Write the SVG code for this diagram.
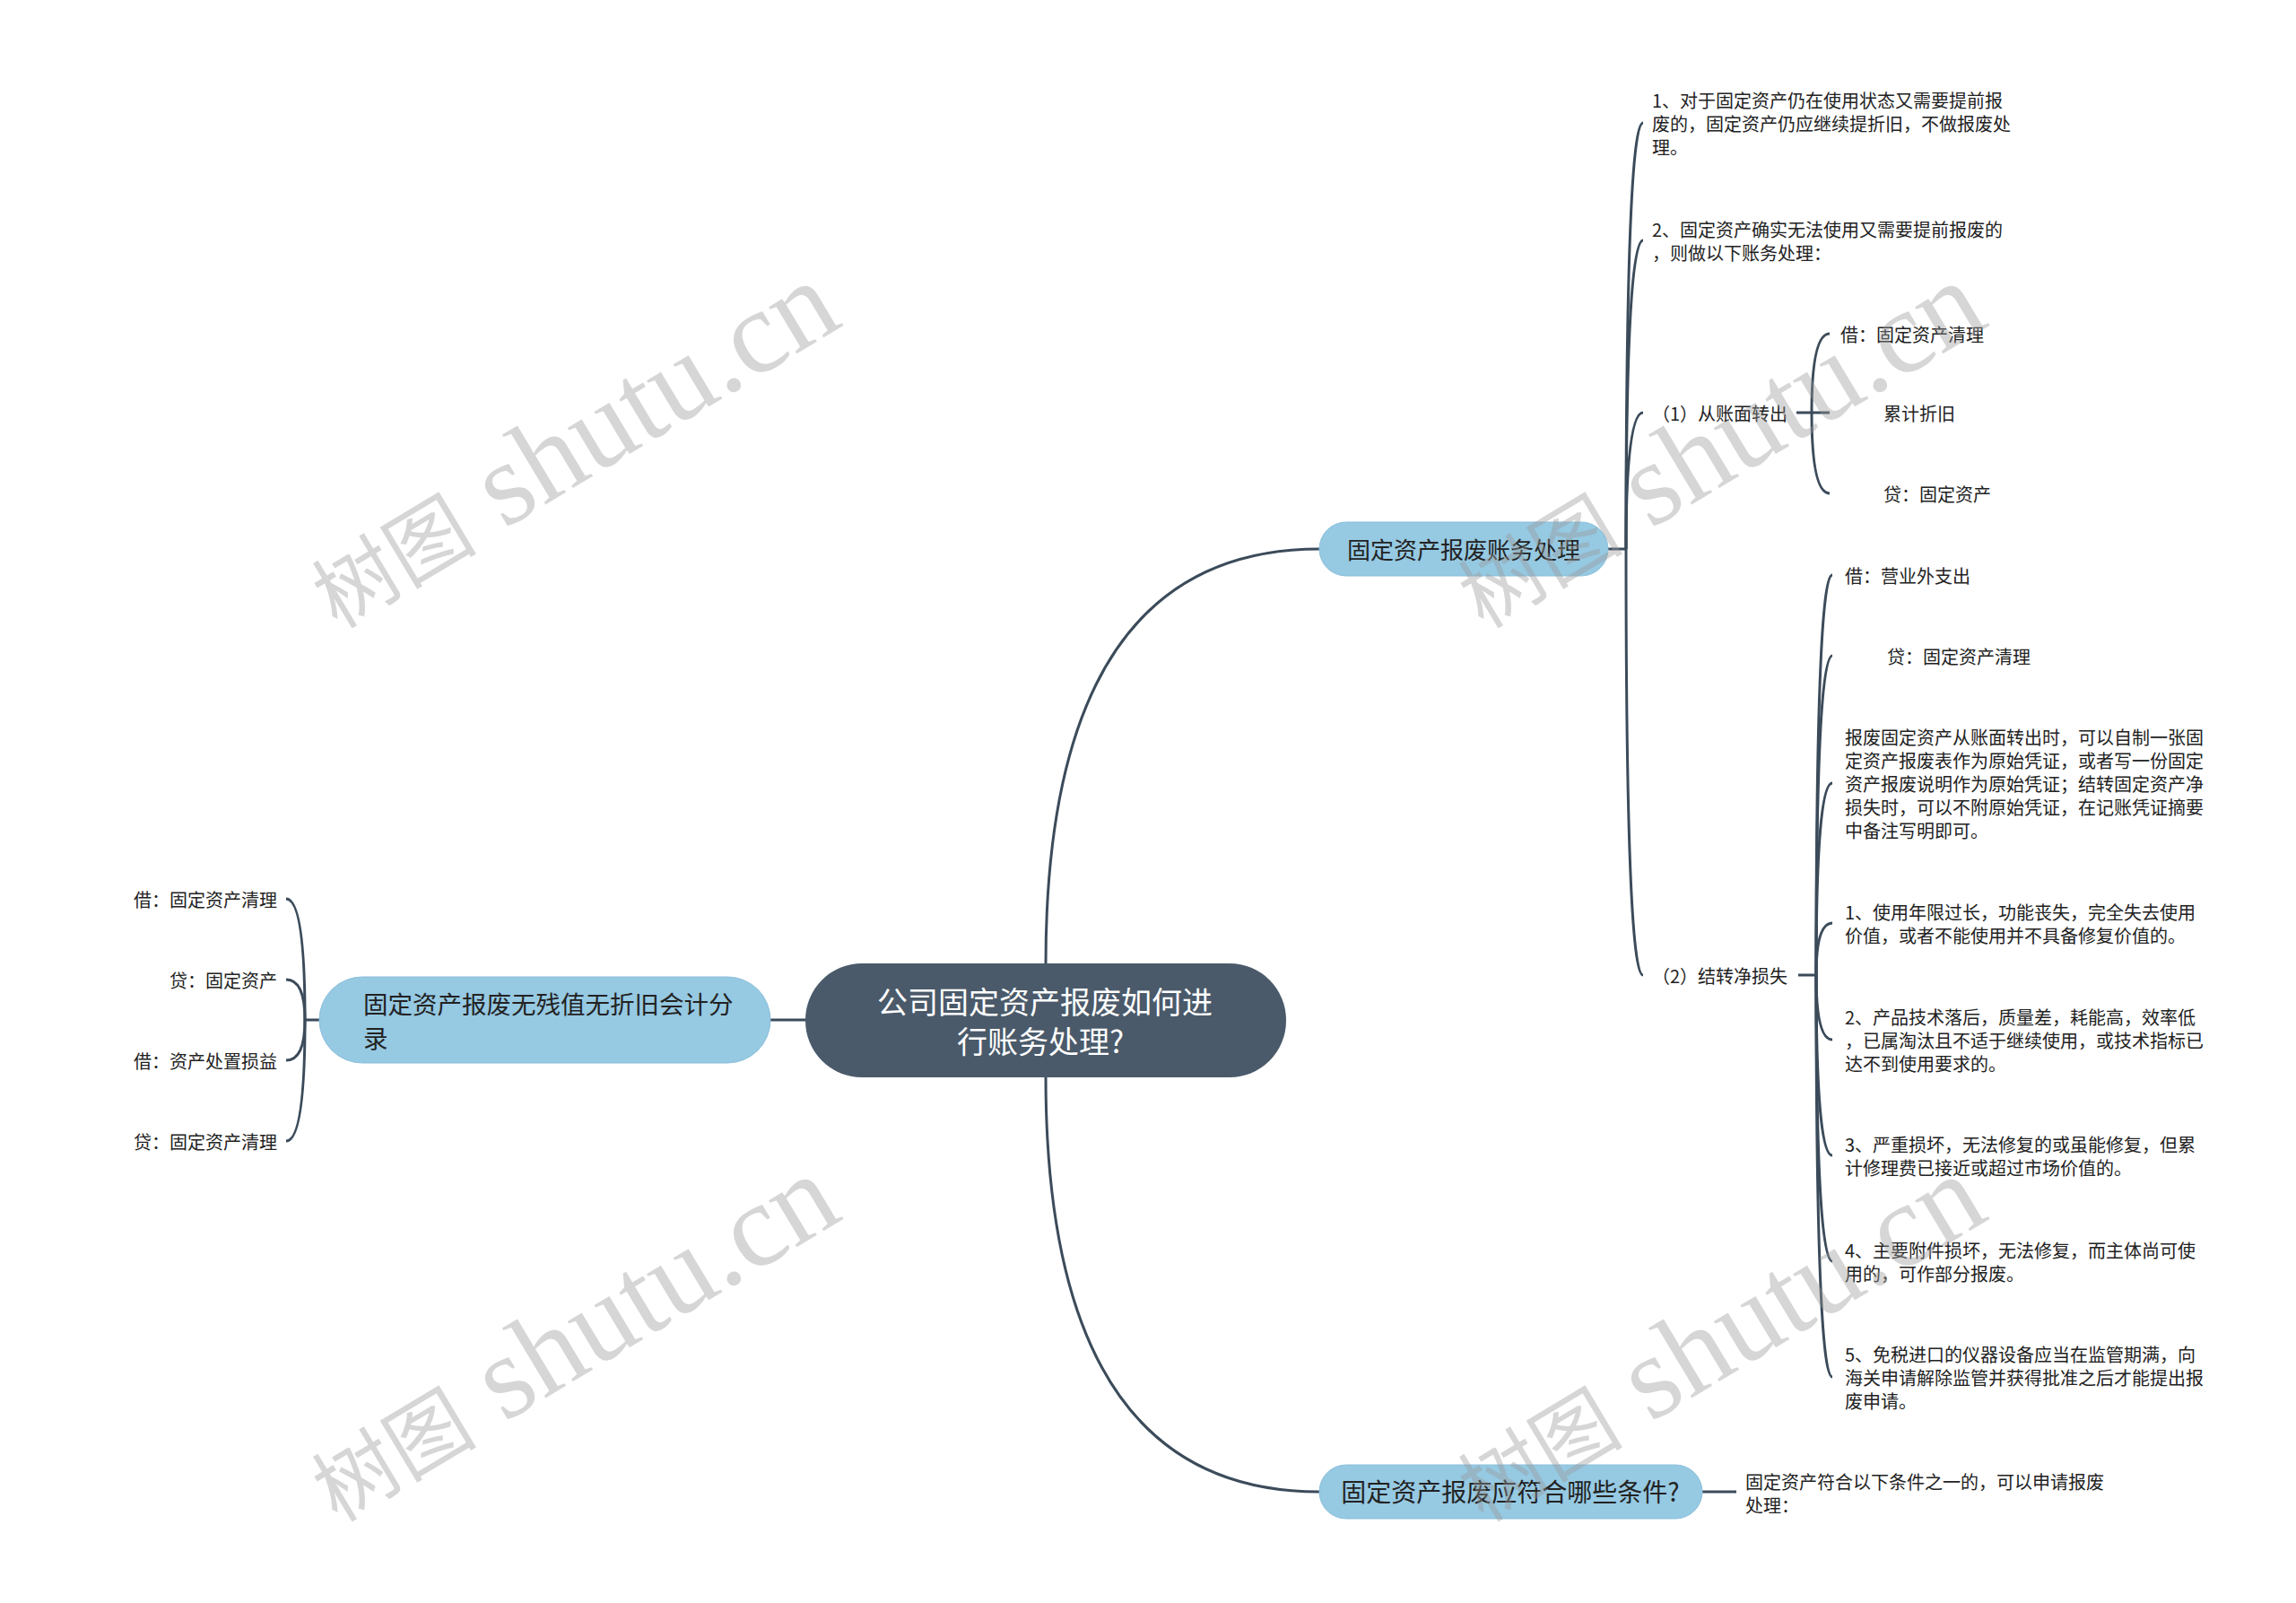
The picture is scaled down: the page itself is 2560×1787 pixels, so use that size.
<svg xmlns="http://www.w3.org/2000/svg" width="2560" height="1787" viewBox="0 0 2560 1787">
<style>
.t{font-family:"Noto Sans CJK SC","Noto Sans",sans-serif;fill:#222;dominant-baseline:central}
.s{font-size:20px}
.c{stroke:#3b4b5a;stroke-width:3;fill:none}
.pill{fill:#96c9e2;stroke:#8bbfdb;stroke-width:1}
.wm{font-family:"Liberation Serif","Noto Sans CJK SC",serif;fill:#999;fill-opacity:0.4}
</style>
<rect width="2560" height="1787" fill="#fff"/>
<g id="connectors">
<path class="c" d="M1166 1075 Q1166 612 1471 612"/>
<path class="c" d="M1166 1200 Q1166 1663 1471 1663"/>
<path class="c" d="M898 1137 L859 1137"/>
<path class="c" d="M1793 612 L1813 612"/>
<path class="c" d="M1813 612 Q1813 137 1832 137"/>
<path class="c" d="M1813 612 Q1813 268 1832 268"/>
<path class="c" d="M1813 612 Q1813 460 1832 460"/>
<path class="c" d="M1813 612 Q1813 1087 1832 1087"/>
<path class="c" d="M2003 460 L2040 460"/>
<path class="c" d="M2020 460 Q2020 372 2040 372"/>
<path class="c" d="M2020 460 Q2020 550 2040 550"/>
<path class="c" d="M2005 1087 L2025 1087"/>
<path class="c" d="M2025 1087 Q2025 641 2043 641"/>
<path class="c" d="M2025 1087 Q2025 731 2043 731"/>
<path class="c" d="M2025 1087 Q2025 873 2043 873"/>
<path class="c" d="M2025 1087 Q2025 1029 2043 1029"/>
<path class="c" d="M2025 1087 Q2025 1159 2043 1159"/>
<path class="c" d="M2025 1087 Q2025 1288 2043 1288"/>
<path class="c" d="M2025 1087 Q2025 1406 2043 1406"/>
<path class="c" d="M2025 1087 Q2025 1535 2043 1535"/>
<path class="c" d="M1898 1663 L1936 1663"/>
<path class="c" d="M356 1137 L340 1137"/>
<path class="c" d="M340 1137 Q340 1002 319 1002"/>
<path class="c" d="M340 1137 Q340 1092 319 1092"/>
<path class="c" d="M340 1137 Q340 1182 319 1182"/>
<path class="c" d="M340 1137 Q340 1272 319 1272"/>
</g>
<g id="root">
<rect x="898" y="1074" width="536" height="127" rx="63" fill="#4a5a6a"/>
<text class="t" x="1165" y="1115" font-size="34" text-anchor="middle" style="fill:#fff">公司固定资产报废如何进</text>
<text class="t" x="1160" y="1159" font-size="34" text-anchor="middle" style="fill:#fff">行账务处理?</text>
</g>
<g id="branch-accounting">
<rect class="pill" x="1471" y="582" width="322" height="60" rx="30"/>
<text class="t" x="1632" y="611" font-size="26" text-anchor="middle">固定资产报废账务处理</text>
</g>
<g id="item-1">
<text class="t s" x="1842" y="111">1、对于固定资产仍在使用状态又需要提前报</text>
<text class="t s" x="1842" y="137">废的，固定资产仍应继续提折旧，不做报废处</text>
<text class="t s" x="1842" y="163">理。</text>
</g>
<g id="item-2">
<text class="t s" x="1842" y="255">2、固定资产确实无法使用又需要提前报废的</text>
<text class="t s" x="1842" y="281">，则做以下账务处理：</text>
</g>
<g id="item-transfer">
<text class="t s" x="1842" y="460">（1）从账面转出</text>
</g>
<g id="t-debit"><text class="t s" x="2052" y="372">借：固定资产清理</text></g>
<g id="t-depr"><text class="t s" x="2100" y="460">累计折旧</text></g>
<g id="t-credit"><text class="t s" x="2100" y="550">贷：固定资产</text></g>
<g id="item-loss">
<text class="t s" x="1842" y="1087">（2）结转净损失</text>
</g>
<g id="l-debit"><text class="t s" x="2057" y="641">借：营业外支出</text></g>
<g id="l-credit"><text class="t s" x="2104" y="731">贷：固定资产清理</text></g>
<g id="l-note">
<text class="t s" x="2057" y="821">报废固定资产从账面转出时，可以自制一张固</text>
<text class="t s" x="2057" y="847">定资产报废表作为原始凭证，或者写一份固定</text>
<text class="t s" x="2057" y="873">资产报废说明作为原始凭证；结转固定资产净</text>
<text class="t s" x="2057" y="899">损失时，可以不附原始凭证，在记账凭证摘要</text>
<text class="t s" x="2057" y="925">中备注写明即可。</text>
</g>
<g id="cond-1">
<text class="t s" x="2057" y="1016">1、使用年限过长，功能丧失，完全失去使用</text>
<text class="t s" x="2057" y="1042">价值，或者不能使用并不具备修复价值的。</text>
</g>
<g id="cond-2">
<text class="t s" x="2057" y="1133">2、产品技术落后，质量差，耗能高，效率低</text>
<text class="t s" x="2057" y="1159">，已属淘汰且不适于继续使用，或技术指标已</text>
<text class="t s" x="2057" y="1185">达不到使用要求的。</text>
</g>
<g id="cond-3">
<text class="t s" x="2057" y="1275">3、严重损坏，无法修复的或虽能修复，但累</text>
<text class="t s" x="2057" y="1301">计修理费已接近或超过市场价值的。</text>
</g>
<g id="cond-4">
<text class="t s" x="2057" y="1393">4、主要附件损坏，无法修复，而主体尚可使</text>
<text class="t s" x="2057" y="1419">用的，可作部分报废。</text>
</g>
<g id="cond-5">
<text class="t s" x="2057" y="1509">5、免税进口的仪器设备应当在监管期满，向</text>
<text class="t s" x="2057" y="1535">海关申请解除监管并获得批准之后才能提出报</text>
<text class="t s" x="2057" y="1561">废申请。</text>
</g>
<g id="branch-conditions">
<rect class="pill" x="1471" y="1633" width="427" height="60" rx="30"/>
<text class="t" x="1684" y="1662" font-size="28" text-anchor="middle">固定资产报废应符合哪些条件?</text>
</g>
<g id="cond-intro">
<text class="t s" x="1946" y="1651">固定资产符合以下条件之一的，可以申请报废</text>
<text class="t s" x="1946" y="1677">处理：</text>
</g>
<g id="branch-noresidual">
<rect class="pill" x="356" y="1089" width="503" height="96" rx="48"/>
<text class="t" x="405" y="1118" font-size="27.5">固定资产报废无残值无折旧会计分</text>
<text class="t" x="405" y="1156" font-size="27.5">录</text>
</g>
<g id="n-1"><text class="t s" x="309" y="1002" text-anchor="end">借：固定资产清理</text></g>
<g id="n-2"><text class="t s" x="309" y="1092" text-anchor="end">贷：固定资产</text></g>
<g id="n-3"><text class="t s" x="309" y="1182" text-anchor="end">借：资产处置损益</text></g>
<g id="n-4"><text class="t s" x="309" y="1272" text-anchor="end">贷：固定资产清理</text></g>
<g id="watermarks">
<text class="wm" transform="translate(376,702) rotate(-31)"><tspan font-size="92">树图</tspan><tspan font-size="132"> shutu.cn</tspan></text>
<text class="wm" transform="translate(1654,702) rotate(-31)"><tspan font-size="92">树图</tspan><tspan font-size="132"> shutu.cn</tspan></text>
<text class="wm" transform="translate(376,1698) rotate(-31)"><tspan font-size="92">树图</tspan><tspan font-size="132"> shutu.cn</tspan></text>
<text class="wm" transform="translate(1654,1698) rotate(-31)"><tspan font-size="92">树图</tspan><tspan font-size="132"> shutu.cn</tspan></text>
</g>
</svg>
